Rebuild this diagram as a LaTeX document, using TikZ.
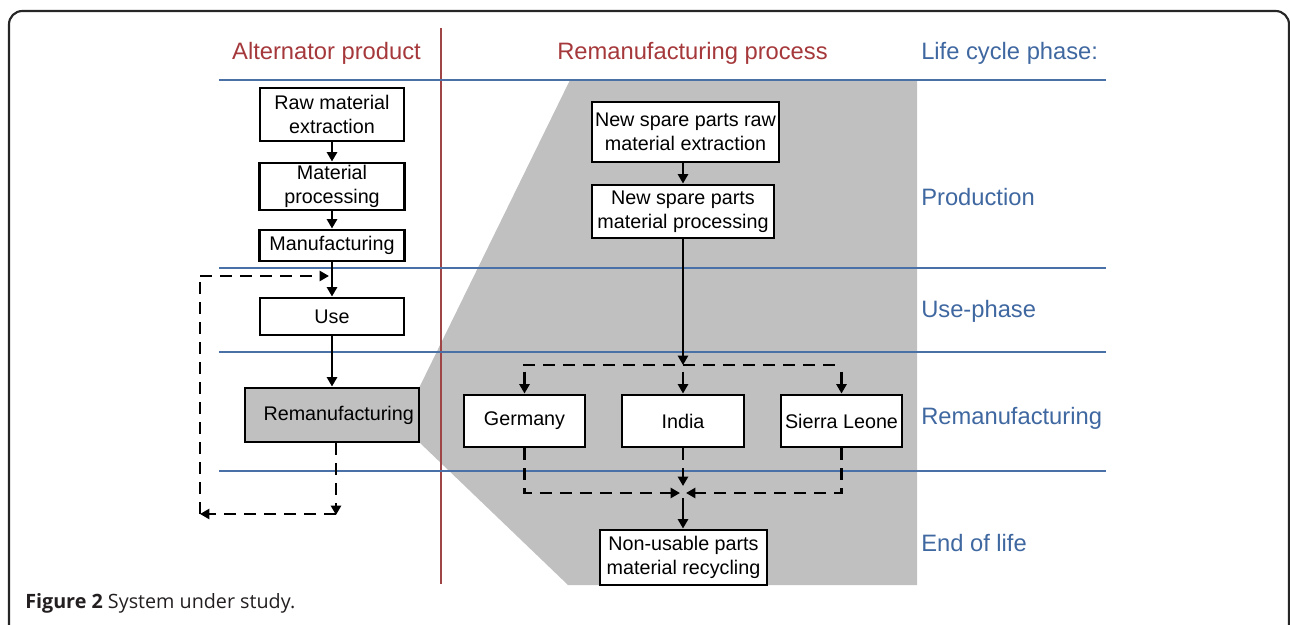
\documentclass[tikz,border=0pt]{standalone}
\usepackage{fontspec}
\setmainfont{Liberation Sans}
\newfontfamily\capfont{Open Sans}
\usetikzlibrary{arrows.meta}
\definecolor{hdrred}{HTML}{A5383B}
\definecolor{phblue}{HTML}{3F67A0}
\definecolor{lnblue}{HTML}{4A70A8}
\definecolor{lnred}{HTML}{A04545}
\definecolor{greyfill}{HTML}{C0C0C0}
\definecolor{capcol}{HTML}{231F20}
\newcommand\pxu{0.75pt}
\tikzset{
  box/.style={draw=black, line width=2.2pt, fill=white, inner sep=0pt, align=center,
    font=\fontsize{14.8pt}{18pt}\selectfont},
  arr/.style={line width=2.2pt, -{Triangle[length=7pt,width=7.5pt]}},
  darr/.style={line width=2.2pt, dash pattern=on 9pt off 6pt, -{Triangle[length=7pt,width=7.5pt]}},
  dline/.style={line width=2.2pt, dash pattern=on 9pt off 6pt},
  hdr/.style={text=hdrred, font=\fontsize{17.8pt}{20pt}\selectfont, inner sep=0pt},
  phase/.style={text=phblue, font=\fontsize{17.8pt}{20pt}\selectfont, inner sep=0pt, anchor=west},
  blueline/.style={draw=lnblue, line width=0.8pt},
}
\begin{document}
\begin{tikzpicture}[x=0.75pt,y=-0.75pt]
\useasboundingbox (0,0) rectangle (1290,625);
% frame
\begin{scope}
\clip (0,0) rectangle (1290,625);
\draw[draw=black!85, line width=1.6pt, rounded corners=10pt] (9,11) rectangle (1289,700);
\end{scope}
% grey zoom area
\fill[greyfill] (570,80) -- (917,80) -- (917,585) -- (568,585) -- (419,442) -- (419,388) -- cycle;
% lines
\draw[draw=lnred, line width=0.8pt] (441,28) -- (441,584);
\foreach \yy in {80,268,352,471} \draw[blueline] (219,\yy) -- (1106,\yy);
% headers
\node[hdr] (h1) at (326.5,53) {Alternator product};
\node[hdr] (h2) at (692.5,53) {Remanufacturing process};
\node[phase] (h3) at (921,53) {Life cycle phase:};
\node[phase] (p1) at (921,197) {Production};
\node[phase] (p2) at (921,311) {Use-phase};
\node[phase] (p3) at (921,418) {Remanufacturing};
\node[phase] (p4) at (921,543) {End of life};
% left column
\node[box, minimum width=144*\pxu, minimum height=53*\pxu] (raw) at (332,114.5) {Raw material\\extraction};
\node[box, minimum width=145*\pxu, minimum height=47*\pxu] (mat) at (332,186.5) {Material\\processing};
\node[box, minimum width=145*\pxu, minimum height=31*\pxu] (manu) at (332,245.5) {Manufacturing};
\node[box, minimum width=144*\pxu, minimum height=37*\pxu] (use) at (332,316.5) {Use};
\node[box, fill=greyfill, minimum width=174*\pxu, minimum height=54*\pxu] (reman) at (332,415) {\hspace*{10pt}Remanufacturing};
% middle column
\node[box, minimum width=187*\pxu, minimum height=60*\pxu] (nsr) at (685.5,132) {New spare parts raw\\material extraction};
\node[box, minimum width=182*\pxu, minimum height=53*\pxu] (nsp) at (683,211.5) {New spare parts\\material processing};
\node[box, minimum width=121*\pxu, minimum height=52*\pxu] (ger) at (524.5,421) {Germany};
\node[box, minimum width=122*\pxu, minimum height=52*\pxu] (ind) at (683,421) {India};
\node[box, minimum width=121*\pxu, minimum height=52*\pxu] (sl) at (841.5,421) {Sierra Leone};
\node[box, minimum width=167*\pxu, minimum height=55*\pxu] (nup) at (683.5,557.5) {Non-usable parts\\material recycling};
% left connectors
\draw[arr] (raw) -- (mat);
\draw[arr] (mat) -- (manu);
\draw[arr] (manu) -- (use);
\draw[arr] (use) -- (reman);
\coordinate (c1) at (336,515);
\coordinate (c2) at (200,514);
\coordinate (c3) at (200,276);
\coordinate (c4) at (329,276);
\draw[darr] (reman.south -| c1) -- (c1);
\draw[darr] (c1 |- c2) -- (c2);
\draw[dline] (c2) -- (c3);
\draw[darr] (c3) -- (c4);
% middle connectors
\coordinate (j1) at (683,365);
\coordinate (jl) at (523,365);
\coordinate (jr) at (838,365);
\draw[arr] (nsr.south -| nsp) -- (nsp);
\draw[arr] (nsp) -- (j1);
\draw[dline] (jl) -- (jr);
\draw[arr] ([yshift=22*\pxu]ger.north) -- (ger.north);
\draw[arr] ([yshift=22*\pxu]ind.north) -- (ind.north);
\draw[arr] ([yshift=22*\pxu]sl.north) -- (sl.north);
\coordinate (k1) at (683,493);
\coordinate (kl) at (680,493);
\coordinate (kr) at (686,493);
\draw[darr] (ger.south) -- (ger.south |- k1) -- (kl);
\draw[darr] (sl.south) -- (sl.south |- k1) -- (kr);
\draw[darr] (ind.south) -- ([yshift=7*\pxu]k1);
\draw[arr] ([yshift=-5*\pxu]k1) -- (nup.north -| k1);
% caption
\node[anchor=base west, inner sep=0pt, text=capcol, font=\capfont\fontsize{14.8pt}{17pt}\selectfont] (cap) at (25,608) {\textbf{Figure 2} System under study.};
\end{tikzpicture}
\end{document}
